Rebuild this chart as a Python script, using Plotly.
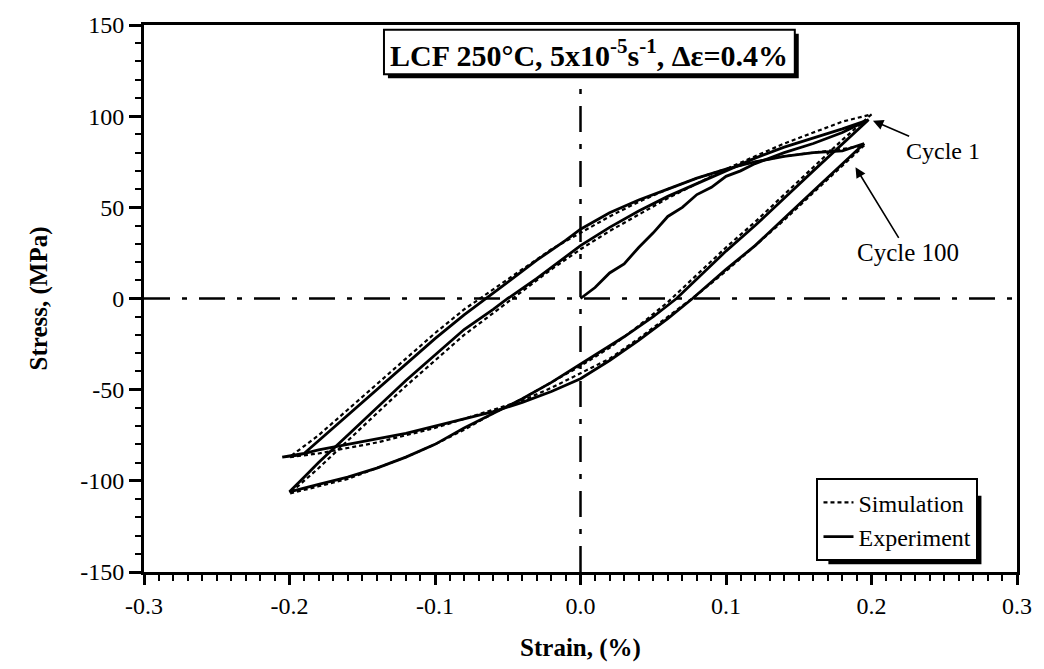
import plotly.graph_objects as go

# ---------------- data (strain in %, stress in MPa) ----------------
# Cycle 1 experiment: initial loading, unloading (lower branch), reloading (upper branch)
c1_init_strain = [0.0, 0.01, 0.02, 0.03, 0.04, 0.05, 0.06, 0.07, 0.08, 0.09, 0.10, 0.11, 0.12, 0.14, 0.16, 0.18, 0.198]
c1_init_stress = [0, 6, 14, 19, 28, 36, 45, 50, 57, 61, 67, 70, 74, 80, 85, 91, 98]

c1_low_strain = [0.198, 0.18, 0.16, 0.14, 0.12, 0.10, 0.08, 0.066, 0.05, 0.03, 0.01, 0.0, -0.02, -0.04, -0.06, -0.08, -0.10, -0.12, -0.14, -0.16, -0.18, -0.20]
c1_low_stress = [98, 85, 70, 55, 40, 26, 11, 0, -10, -21, -31, -36, -46, -55, -63, -71, -80, -87, -93, -98, -102, -106]

c1_up_strain = [-0.20, -0.19, -0.18, -0.16, -0.14, -0.12, -0.10, -0.08, -0.06, -0.05, -0.03, -0.01, 0.0, 0.02, 0.04, 0.06, 0.08, 0.10, 0.12, 0.14, 0.16, 0.18, 0.198]
c1_up_stress = [-106, -98, -90, -75, -60, -45, -31, -17, -6, 0, 11, 23, 29, 39, 48, 56, 63, 70, 77, 83, 88, 93, 98]

# Cycle 100 experiment
c100_low_strain = [0.195, 0.18, 0.16, 0.14, 0.12, 0.10, 0.077, 0.06, 0.04, 0.02, 0.0, -0.02, -0.04, -0.06, -0.08, -0.10, -0.12, -0.14, -0.16, -0.18, -0.195, -0.205]
c100_low_stress = [85, 74, 59, 44, 29, 16, 0, -11, -23, -34, -44, -51, -57, -62, -66, -70, -74, -77, -80, -83, -86, -87]

c100_up_strain = [-0.205, -0.19, -0.18, -0.16, -0.14, -0.12, -0.10, -0.08, -0.065, -0.05, -0.03, -0.01, 0.0, 0.02, 0.04, 0.06, 0.08, 0.10, 0.12, 0.14, 0.16, 0.18, 0.195]
c100_up_stress = [-87, -85, -78, -64, -50, -36, -22, -9, 0, 9, 21, 32, 38, 47, 54, 60, 66, 71, 75, 78, 80, 81, 85]

# Simulation, cycle 1
s1_low_strain = [0.20, 0.18, 0.16, 0.14, 0.12, 0.10, 0.08, 0.06, 0.04, 0.02, 0.0, -0.02, -0.04, -0.06, -0.08, -0.10, -0.12, -0.14, -0.16, -0.18, -0.20]
s1_low_stress = [101, 87, 72, 57, 42, 28, 13, -2, -15, -27, -37, -46, -55, -63, -72, -80, -87, -93, -99, -103, -107]
s1_up_strain = [-0.20, -0.18, -0.16, -0.14, -0.12, -0.10, -0.08, -0.06, -0.04, -0.02, 0.0, 0.02, 0.04, 0.06, 0.08, 0.10, 0.12, 0.14, 0.16, 0.18, 0.20]
s1_up_stress = [-107, -93, -78, -63, -48, -34, -20, -8, 4, 16, 27, 37, 46, 55, 63, 71, 78, 85, 91, 97, 101]

# Simulation, cycle 100
s100_low_strain = [0.195, 0.18, 0.16, 0.14, 0.12, 0.10, 0.08, 0.06, 0.04, 0.02, 0.0, -0.02, -0.04, -0.06, -0.08, -0.10, -0.12, -0.14, -0.16, -0.18, -0.20]
s100_low_stress = [84, 73, 58, 43, 29, 15, 2, -10, -22, -33, -41, -49, -56, -61, -66, -71, -75, -79, -82, -85, -87]
s100_up_strain = [-0.20, -0.18, -0.16, -0.14, -0.12, -0.10, -0.08, -0.06, -0.04, -0.02, 0.0, 0.02, 0.04, 0.06, 0.08, 0.10, 0.12, 0.14, 0.16, 0.18, 0.195]
s100_up_stress = [-87, -75, -61, -47, -33, -19, -6, 5, 16, 27, 36, 45, 53, 60, 66, 71, 75, 78, 80, 82, 84]

x_ticks = [-0.3, -0.2, -0.1, 0.0, 0.1, 0.2, 0.3]
y_ticks = [-150, -100, -50, 0, 50, 100, 150]

# ---------------- figure ----------------
SERIF = "Liberation Serif, Times New Roman, serif"
W, H = 1044, 669
L, R, T, B = 144, 16, 13, 90
pw, ph = W - L - R, H - T - B


def px_x(px):
    return (px - L) / pw


def px_y(py):
    return (H - B - py) / ph


fig = go.Figure()

sim_line = dict(color="black", width=2.2, dash="4px,3px")
exp_line = dict(color="black", width=2.8)

fig.add_trace(go.Scatter(x=s1_low_strain + s1_up_strain, y=s1_low_stress + s1_up_stress,
                         mode="lines", line=sim_line, name="Simulation",
                         legendgroup="sim", showlegend=True))
fig.add_trace(go.Scatter(x=s100_low_strain + s100_up_strain, y=s100_low_stress + s100_up_stress,
                         mode="lines", line=sim_line, name="Simulation",
                         legendgroup="sim", showlegend=False))
fig.add_trace(go.Scatter(x=c1_init_strain + c1_low_strain + c1_up_strain,
                         y=c1_init_stress + c1_low_stress + c1_up_stress,
                         mode="lines", line=exp_line, name="Experiment",
                         legendgroup="exp", showlegend=True))
fig.add_trace(go.Scatter(x=c100_low_strain + c100_up_strain, y=c100_low_stress + c100_up_stress,
                         mode="lines", line=exp_line, name="Experiment",
                         legendgroup="exp", showlegend=False))

dashdot = "26px,12px,5px,12px"
shapes = [
    dict(type="line", xref="x", yref="y", x0=-0.3, x1=0.3, y0=0, y1=0,
         line=dict(color="black", width=2.5, dash=dashdot), layer="below"),
    dict(type="line", xref="x", yref="y", x0=0, x1=0, y0=-150, y1=150,
         line=dict(color="black", width=2.5, dash=dashdot), layer="below"),
    # title box shadow + box
    dict(type="rect", xref="paper", yref="paper", x0=px_x(391), x1=px_x(807), y0=px_y(68), y1=px_y(22),
         fillcolor="black", line=dict(width=0), layer="above"),
    dict(type="rect", xref="paper", yref="paper", x0=px_x(387), x1=px_x(803), y0=px_y(64), y1=px_y(18),
         fillcolor="white", line=dict(color="black", width=2), layer="above"),
    # legend shadow
    dict(type="rect", xref="paper", yref="paper", x0=px_x(837), x1=px_x(992), y0=px_y(571), y1=px_y(500),
         fillcolor="black", line=dict(width=0), layer="above"),
]

annotations = [
    dict(xref="paper", yref="paper", x=px_x(595), y=px_y(42), xanchor="center", yanchor="middle",
         text="<b>LCF 250°C, 5x10<sup>-5</sup>s<sup>-1</sup>, Δε=0.4%</b>", showarrow=False,
         font=dict(family=SERIF, size=30, color="black")),
    dict(xref="x", yref="y", x=0.201, y=97.5, axref="x", ayref="y", ax=0.249, ay=81,
         text="Cycle 1", showarrow=True, arrowhead=2, arrowsize=1.3, arrowwidth=1.6,
         arrowcolor="black", font=dict(family=SERIF, size=24, color="black")),
    dict(xref="x", yref="y", x=0.189, y=72, axref="x", ayref="y", ax=0.225, ay=25,
         text="Cycle 100", showarrow=True, arrowhead=2, arrowsize=1.3, arrowwidth=1.6,
         arrowcolor="black", font=dict(family=SERIF, size=25, color="black")),
]

fig.update_layout(
    width=W, height=H,
    margin=dict(l=L, r=R, t=T, b=B, pad=0),
    paper_bgcolor="white", plot_bgcolor="white",
    font=dict(family=SERIF, color="black"),
    shapes=shapes, annotations=annotations,
    legend=dict(x=px_x(989), y=px_y(568), xanchor="right", yanchor="bottom",
                bgcolor="white", bordercolor="black", borderwidth=2,
                font=dict(family=SERIF, size=24, color="black"),
                tracegroupgap=0, itemwidth=30),
)

fig.update_xaxes(
    range=[-0.3, 0.3], tickvals=x_ticks, ticktext=[f"{v:.1f}" for v in x_ticks],
    ticks="outside", ticklen=10, tickwidth=2.5, tickcolor="black",
    minor=dict(dtick=0.01, tick0=0, ticks="outside", ticklen=6, tickwidth=2, tickcolor="black"),
    showline=True, linecolor="black", linewidth=3, mirror=True,
    showgrid=False, zeroline=False,
    tickfont=dict(family=SERIF, size=24, color="black"),
    title=dict(text="<b>Strain, (%)</b>", font=dict(family=SERIF, size=25, color="black"), standoff=21),
)
fig.update_yaxes(
    range=[-150, 150], tickvals=y_ticks, ticktext=[str(v) for v in y_ticks],
    ticks="outside", ticklen=12, tickwidth=2.5, tickcolor="black",
    minor=dict(dtick=10, tick0=0, ticks="outside", ticklen=6, tickwidth=2, tickcolor="black"),
    showline=True, linecolor="black", linewidth=3, mirror=True,
    showgrid=False, zeroline=False,
    tickfont=dict(family=SERIF, size=24, color="black"),
    title=dict(text="<b>Stress, (MPa)</b>", font=dict(family=SERIF, size=25, color="black"), standoff=26),
)

fig.write_html("out.html")
